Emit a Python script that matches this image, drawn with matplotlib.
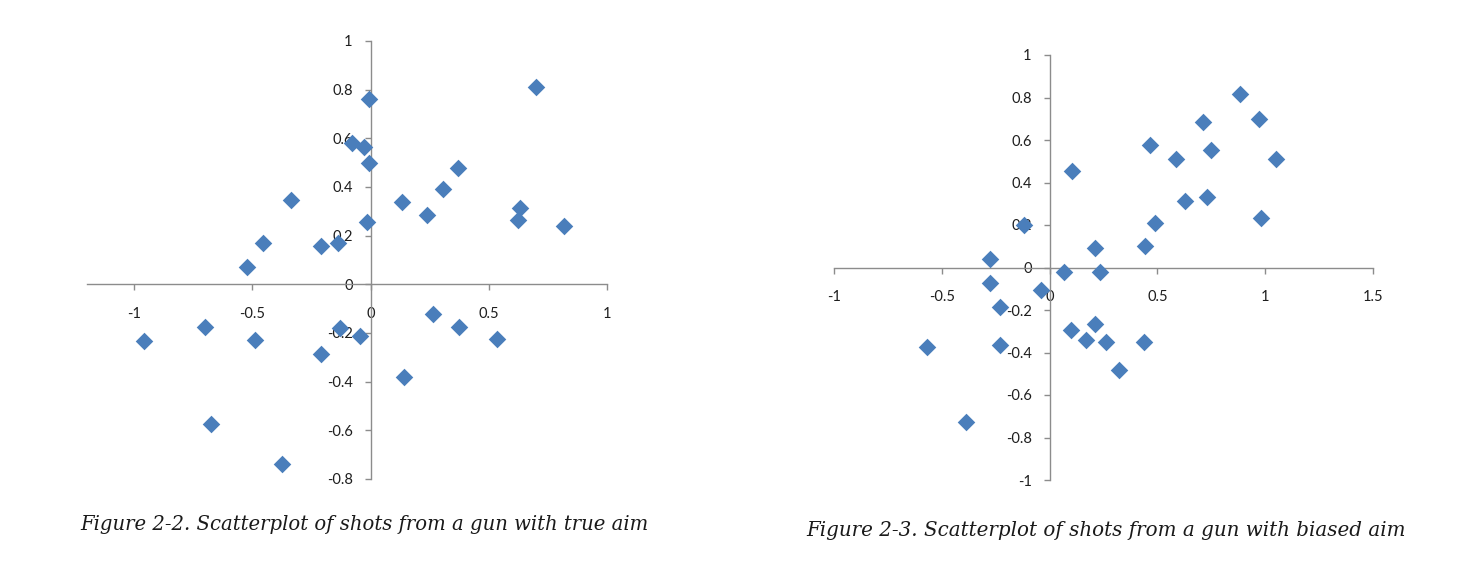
import numpy as np
import matplotlib.pyplot as plt

# shots from the gun with true aim (fig 2-2)
true_x = [-0.005, -0.078, -0.028, -0.007, -0.336, -0.017, -0.455, -0.209, -0.138,
          0.70, 0.134, 0.24, 0.308, 0.37, 0.633, 0.622, 0.816,
          -0.523, -0.96, -0.70, -0.49, -0.212, -0.13, -0.047, -0.675, -0.376,
          0.264, 0.372, 0.534, 0.143]
true_y = [0.76, 0.58, 0.563, 0.497, 0.346, 0.256, 0.169, 0.156, 0.169,
          0.81, 0.339, 0.284, 0.393, 0.479, 0.315, 0.266, 0.241,
          0.07, -0.233, -0.175, -0.227, -0.286, -0.178, -0.213, -0.576, -0.74,
          -0.121, -0.175, -0.226, -0.379]

# shots from the gun with biased aim (fig 2-3)
bias_x = [0.102, -0.121, 0.209, -0.278, 0.065, 0.232,
          0.884, 0.969, 0.71, 0.465, 0.747, 0.587, 1.051, 0.626, 0.731, 0.982, 0.49, 0.442,
          -0.278, -0.039, -0.229, -0.229, -0.569, -0.386, 0.097, 0.209, 0.17, 0.263, 0.321,
          0.437]
bias_y = [0.452, 0.202, 0.093, 0.042, -0.02, -0.02,
          0.816, 0.701, 0.687, 0.576, 0.555, 0.509, 0.509, 0.315, 0.333, 0.232, 0.21, 0.101,
          -0.075, -0.106, -0.187, -0.363, -0.374, -0.726, -0.294, -0.266, -0.343, -0.352, -0.483,
          -0.352]

left_xticks = [-1, -0.5, 0, 0.5, 1]
left_yticks = [-0.8, -0.6, -0.4, -0.2, 0, 0.2, 0.4, 0.6, 0.8, 1]
right_xticks = [-1, -0.5, 0, 0.5, 1, 1.5]
right_yticks = [-1, -0.8, -0.6, -0.4, -0.2, 0, 0.2, 0.4, 0.6, 0.8, 1]

captions = ['Figure 2-2. Scatterplot of shots from a gun with true aim',
            'Figure 2-3. Scatterplot of shots from a gun with biased aim']

W, H = 1464, 586
fig = plt.figure(figsize=(W / 100, H / 100), dpi=100)


def fmt(v):
    return '%g' % v


def make_axes(px_left, px_right, px_top, px_bottom):
    return fig.add_axes([px_left / W, 1 - px_bottom / H,
                         (px_right - px_left) / W, (px_bottom - px_top) / H])


def style(ax, xt, yt, xlim, ylim):
    ax.set_xlim(xlim)
    ax.set_ylim(ylim)
    for s in ['top', 'right']:
        ax.spines[s].set_visible(False)
    for s in ['left', 'bottom']:
        ax.spines[s].set_position(('data', 0))
        ax.spines[s].set_color('#8c8c8c')
        ax.spines[s].set_linewidth(1.0)
    ax.set_xticks(xt)
    ax.set_yticks(yt)
    ax.set_xticklabels([fmt(v) for v in xt])
    ax.set_yticklabels([fmt(v) for v in yt])
    ax.tick_params(axis='both', direction='out', length=4, width=1.0,
                   color='#8c8c8c', labelcolor='#1e1e1e', labelsize=10.5)
    ax.tick_params(axis='x', pad=12)
    ax.tick_params(axis='y', pad=9)
    for lab in ax.get_xticklabels() + ax.get_yticklabels():
        lab.set_family('Lato')
    ax.patch.set_alpha(0)


ax1 = make_axes(87, 607, 41, 479)
ax1.scatter(true_x, true_y, marker='D', s=80, color='#4a7ebb', linewidths=0, zorder=3)
style(ax1, left_xticks, left_yticks, (-1.2, 1), (-0.8, 1))

ax2 = make_axes(834, 1373, 55, 480)
ax2.scatter(bias_x, bias_y, marker='D', s=80, color='#4a7ebb', linewidths=0, zorder=3)
style(ax2, right_xticks, right_yticks, (-1, 1.5), (-1, 1))

fig.text(80 / W, 1 - 524 / H, captions[0], ha='left', va='center',
         family='DejaVu Serif', style='italic', fontsize=14.1, color='#1a1a1a')
fig.text(806 / W, 1 - 531 / H, captions[1], ha='left', va='center',
         family='DejaVu Serif', style='italic', fontsize=14.3, color='#1a1a1a')

fig.savefig('out.png', dpi=100, facecolor='white')
